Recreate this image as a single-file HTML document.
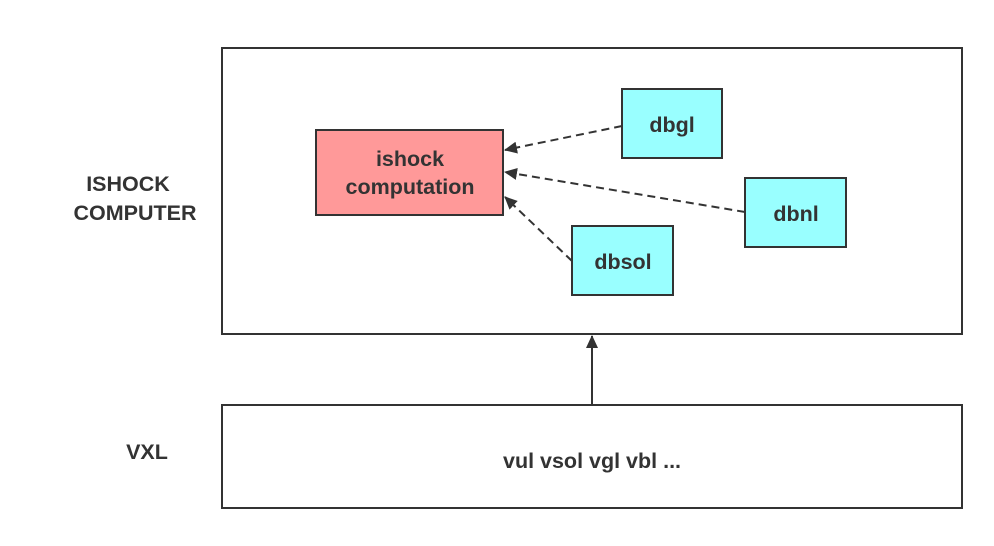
<!DOCTYPE html>
<html><head><style>
body{margin:0;background:#fff;}
text{font-family:"Liberation Sans",sans-serif;font-weight:bold;fill:#333;font-size:21.5px;}
</style></head><body>
<svg width="994" height="541" xmlns="http://www.w3.org/2000/svg">
<defs><marker id="a" markerWidth="14" markerHeight="12" refX="12" refY="6" orient="auto" markerUnits="userSpaceOnUse"><path d="M0,0 L13,6 L0,12 Z" fill="#333"/></marker></defs>
<rect x="222" y="48" width="740" height="286" fill="#fff" stroke="#333" stroke-width="2"/>
<rect x="222" y="405" width="740" height="103" fill="#fff" stroke="#333" stroke-width="2"/>
<rect x="316" y="130" width="187" height="85" fill="#ff9999" stroke="#333" stroke-width="2"/>
<rect x="622" y="89" width="100" height="69" fill="#99ffff" stroke="#333" stroke-width="2"/>
<rect x="745" y="178" width="101" height="69" fill="#99ffff" stroke="#333" stroke-width="2"/>
<rect x="572" y="226" width="101" height="69" fill="#99ffff" stroke="#333" stroke-width="2"/>
<g stroke="#333" stroke-width="2" stroke-dasharray="8,5" fill="none">
<line x1="622" y1="126" x2="505" y2="150" marker-end="url(#a)"/>
<line x1="745" y1="212" x2="505" y2="172" marker-end="url(#a)"/>
<line x1="572" y1="261" x2="505" y2="197" marker-end="url(#a)"/>
</g>
<line x1="592" y1="405" x2="592" y2="336" stroke="#333" stroke-width="2" marker-end="url(#a)"/>
<text x="410" y="166" text-anchor="middle">ishock</text>
<text x="410" y="194" text-anchor="middle">computation</text>
<text x="672" y="132" text-anchor="middle">dbgl</text>
<text x="796" y="221" text-anchor="middle">dbnl</text>
<text x="623" y="269" text-anchor="middle">dbsol</text>
<text x="128" y="191" text-anchor="middle">ISHOCK</text>
<text x="135" y="220" text-anchor="middle">COMPUTER</text>
<text x="147" y="459" text-anchor="middle">VXL</text>
<text x="592" y="468" text-anchor="middle">vul vsol vgl vbl ...</text>
</svg>
</body></html>
